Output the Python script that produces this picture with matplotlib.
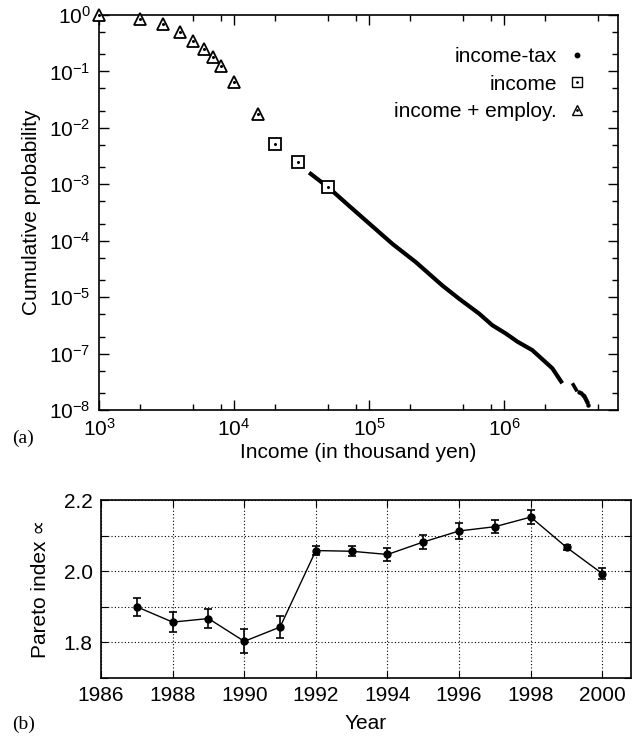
import numpy as np
import matplotlib
matplotlib.use("Agg")
import matplotlib.pyplot as plt
from matplotlib.ticker import FixedLocator, FixedFormatter, LogLocator, NullFormatter
from matplotlib.lines import Line2D

plt.rcParams['font.family'] = ['Liberation Sans', 'DejaVu Sans']
plt.rcParams['mathtext.fontset'] = 'custom'
plt.rcParams['mathtext.rm'] = 'Liberation Sans'
plt.rcParams['mathtext.it'] = 'Liberation Sans:italic'

# ---------------- data (a) ----------------
emp_income = [1000, 2000, 3000, 4000, 5000, 6000, 7000, 8000, 10000, 15000]
emp_prob = [1.0, 0.84, 0.686, 0.508, 0.352, 0.248, 0.177, 0.124, 0.064, 0.0177]

inc_income = [20000, 30000, 50000]
inc_prob = [5.1e-3, 2.45e-3, 8.9e-4]

tax_line_income = [36000, 50000, 71100, 149000, 222000, 349000, 464000, 653000, 819000,
                   1030000, 1260000, 1620000, 2280000, 2700000]
tax_line_prob = [1.61e-3, 8.8e-4, 4.16e-4, 8.8e-5, 4.18e-5, 1.61e-5, 9.4e-6, 5.12e-6, 3.18e-6,
                 2.27e-6, 1.62e-6, 1.15e-6, 5.48e-7, 2.98e-7]
tax_dash_income = [3210000, 3480000]
tax_dash_prob = [2.98e-7, 2.14e-7]
tax_dot_income = [3600000, 3700000, 3820000, 3920000, 4000000, 4070000, 4130000, 4170000]
tax_dot_prob = [2.05e-7, 1.99e-7, 1.85e-7, 1.74e-7, 1.62e-7, 1.51e-7, 1.38e-7, 1.24e-7]

ytick_pos = [1e0, 1e-1, 1e-2, 1e-3, 1e-4, 1e-5, 1e-6, 1e-7]
ytick_labels = [r'$\mathregular{10^{0}}$', r'$\mathregular{10^{-1}}$', r'$\mathregular{10^{-2}}$',
                r'$\mathregular{10^{-3}}$', r'$\mathregular{10^{-4}}$', r'$\mathregular{10^{-5}}$',
                r'$\mathregular{10^{-7}}$', r'$\mathregular{10^{-8}}$']
xtick_pos = [1e3, 1e4, 1e5, 1e6]
xtick_labels = [r'$\mathregular{10^{3}}$', r'$\mathregular{10^{4}}$', r'$\mathregular{10^{5}}$',
                r'$\mathregular{10^{6}}$']
legend_labels = ['income-tax', 'income', 'income + employ.']

# ---------------- data (b) ----------------
years = [1987, 1988, 1989, 1990, 1991, 1992, 1993, 1994, 1995, 1996, 1997, 1998, 1999, 2000]
alpha = [1.900, 1.857, 1.867, 1.803, 1.843, 2.058, 2.056, 2.047, 2.082, 2.113, 2.125, 2.152, 2.067, 1.993]
alpha_err = [0.026, 0.027, 0.027, 0.034, 0.030, 0.013, 0.014, 0.017, 0.019, 0.023, 0.019, 0.019, 0.007, 0.016]
year_ticks = [1986, 1988, 1990, 1992, 1994, 1996, 1998, 2000]
alpha_ticks = [1.7, 1.8, 1.9, 2.0, 2.1, 2.2]
alpha_tick_labels = ['', '1.8', '', '2.0', '', '2.2']

fig = plt.figure(figsize=(6.33, 7.40), dpi=100)

# ---------------- panel (a) ----------------
ax = fig.add_axes([99/633, 1-410/740, (618-99)/633, 395/740])
ax.set_xscale('log')
ax.set_yscale('log')
ax.set_xlim(1000, 10**(3 + 519/135))
ax.set_ylim(1e-7, 1e0)

ax.plot(tax_line_income, tax_line_prob, color='black', lw=3.0, solid_capstyle='butt', zorder=3)
ax.plot(tax_dash_income, tax_dash_prob, color='black', lw=2.6, solid_capstyle='butt', zorder=3)
ax.plot(tax_dot_income, tax_dot_prob, linestyle='none', marker='o', ms=2.2, color='black', zorder=3)

ax.plot(inc_income, inc_prob, linestyle='none', marker='s', ms=8.5, mfc='white', mec='black', mew=1.3, zorder=4)
ax.plot(inc_income, inc_prob, linestyle='none', marker='o', ms=1.2, color='black', zorder=5)
ax.plot(emp_income, emp_prob, linestyle='none', marker='^', ms=9, mfc='white', mec='black', mew=1.3, zorder=4, clip_on=False)
ax.plot(emp_income, emp_prob, linestyle='none', marker='o', ms=1.2, color='black', zorder=5, clip_on=False)

ax.yaxis.set_major_locator(FixedLocator(ytick_pos))
ax.yaxis.set_major_formatter(FixedFormatter(ytick_labels))
ax.yaxis.set_minor_locator(LogLocator(base=10, subs=[2, 5], numticks=20))
ax.yaxis.set_minor_formatter(NullFormatter())
ax.xaxis.set_major_locator(FixedLocator(xtick_pos))
ax.xaxis.set_major_formatter(FixedFormatter(xtick_labels))
ax.xaxis.set_minor_locator(LogLocator(base=10, subs=[2, 5, 8], numticks=20))
ax.xaxis.set_minor_formatter(NullFormatter())
ax.tick_params(which='both', direction='in', top=True, right=True, labelsize=15, width=1.0)
ax.tick_params(which='major', length=7, pad=6)
ax.tick_params(which='minor', length=4)
for s in ax.spines.values():
    s.set_linewidth(1.2)
ax.set_xlabel('Income (in thousand yen)', fontsize=15, labelpad=2)
ax.set_ylabel('Cumulative probability', fontsize=15, labelpad=6)

cdot = Line2D([], [], linestyle='none', marker='o', ms=1.0, color='black')
handles = [Line2D([], [], linestyle='none', marker='o', ms=3.2, color='black'),
           (Line2D([], [], linestyle='none', marker='s', ms=6.5, mfc='white', mec='black', mew=1.0), cdot),
           (Line2D([], [], linestyle='none', marker='^', ms=7, mfc='white', mec='black', mew=1.0), cdot)]
leg = ax.legend(handles, legend_labels, loc='upper right',
                bbox_to_anchor=(0.958, 0.94), frameon=False, markerfirst=False, fontsize=15,
                handlelength=1.0, handletextpad=0.48, labelspacing=0.41, borderaxespad=0)
leg._legend_box.align = 'right'

fig.text(12/633, 1-438/740, '(a)', fontsize=14, family='Liberation Serif', va='center', ha='left')

# ---------------- panel (b) ----------------
bx = fig.add_axes([101/633, 1-678/740, 530/633, 178/740])
bx.errorbar(years, alpha, yerr=alpha_err, color='black', lw=1.0, marker='o', ms=5.0,
            capsize=3, elinewidth=1.2, capthick=1.2, zorder=3)
bx.set_xlim(1986, 2000.8)
bx.set_ylim(1.7, 2.2)
bx.set_xticks(year_ticks)
bx.set_xticklabels([str(y) for y in year_ticks])
bx.set_yticks(alpha_ticks)
bx.set_yticklabels(alpha_tick_labels)
bx.grid(True, linestyle=(0, (1, 2)), color='black', lw=0.8)
bx.tick_params(which='both', direction='in', top=True, right=True, labelsize=15, length=5, pad=6)
for s in bx.spines.values():
    s.set_linewidth(1.2)
bx.set_xlabel('Year', fontsize=15, labelpad=6)
bx.set_ylabel('Pareto index ∝', fontsize=15, labelpad=10)
fig.text(12/633, 1-724/740, '(b)', fontsize=14, family='Liberation Serif', va='center', ha='left')

fig.savefig('out.png', dpi=100)
